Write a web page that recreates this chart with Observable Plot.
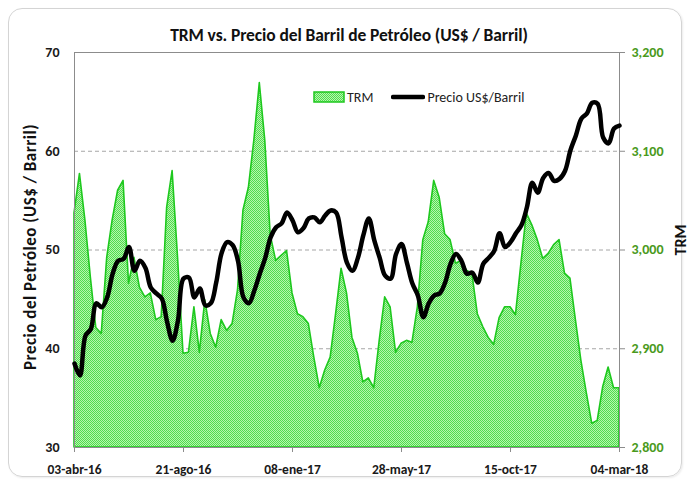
<!DOCTYPE html>
<html><head><meta charset="utf-8">
<script src="https://cdn.jsdelivr.net/npm/d3@7"></script>
<script src="https://cdn.jsdelivr.net/npm/@observablehq/plot@0.6"></script>
<style>
body{margin:0;background:#fff;}
#wrap{position:relative;width:691px;height:483px;font-family:Carlito,Lato,"Open Sans",sans-serif;overflow:hidden;}
#frame{position:absolute;left:8px;top:8px;width:672px;height:467px;border:1px solid #d4d4d4;border-radius:14px;box-shadow:1px 1px 2px rgba(0,0,0,0.08);}
#chart{position:absolute;left:0;top:0;}
#title{position:absolute;left:349px;top:35px;transform:translate(-50%,-50%);font-weight:bold;font-size:17.5px;white-space:nowrap;color:#111;letter-spacing:-0.1px;}
.rot{position:absolute;transform:translate(-50%,-50%) rotate(-90deg);font-weight:bold;white-space:nowrap;color:#111;}
#ylab{left:30px;top:247px;font-size:17px;letter-spacing:0.5px;}
#y2lab{left:680px;top:240px;font-size:16px;}
#legend{position:absolute;left:313px;top:88px;height:18px;display:flex;align-items:center;font-size:14px;color:#222;}
</style></head><body>
<div id="wrap">
  <div id="frame"></div>
  <div id="chart"></div>
  <div id="title">TRM vs. Precio del Barril de Petróleo (US$ / Barril)</div>
  <div id="ylab" class="rot">Precio del Petróleo (US$ / Barril)</div>
  <div id="y2lab" class="rot">TRM</div>
  <div id="legend">
    <svg width="32" height="12" style="margin-right:2px"><defs><pattern id="legPat" width="2" height="2" patternUnits="userSpaceOnUse"><rect width="2" height="2" fill="#b6f5ad"/><rect width="1" height="1" fill="#4fdc4f"/><rect x="1" y="1" width="1" height="1" fill="#4fdc4f"/></pattern></defs><rect x="1" y="1" width="30" height="10" fill="url(#legPat)" stroke="#1ec81e" stroke-width="1.5"/></svg>
    <span>TRM</span>
    <svg width="34" height="12" style="margin-left:18px;margin-right:2px"><line x1="2" y1="6" x2="32" y2="6" stroke="#000" stroke-width="4.5" stroke-linecap="round"/></svg>
    <span>Precio US$/Barril</span>
  </div>
</div>
<script>
const weeks = [
"2016-04-03","2016-04-10","2016-04-17","2016-04-24","2016-05-01","2016-05-08","2016-05-15","2016-05-22","2016-05-29",
"2016-06-05","2016-06-12","2016-06-19","2016-06-26","2016-07-03","2016-07-10","2016-07-17","2016-07-24","2016-07-31",
"2016-08-07","2016-08-14","2016-08-21","2016-08-28","2016-09-04","2016-09-11","2016-09-18","2016-09-25",
"2016-10-02","2016-10-09","2016-10-16","2016-10-23","2016-10-30","2016-11-06","2016-11-13","2016-11-20","2016-11-27",
"2016-12-04","2016-12-11","2016-12-18","2016-12-25","2017-01-01","2017-01-08","2017-01-15","2017-01-22","2017-01-29",
"2017-02-05","2017-02-12","2017-02-19","2017-02-26","2017-03-05","2017-03-12","2017-03-19","2017-03-26",
"2017-04-02","2017-04-09","2017-04-16","2017-04-23","2017-04-30","2017-05-07","2017-05-14","2017-05-21","2017-05-28",
"2017-06-04","2017-06-11","2017-06-18","2017-06-25","2017-07-02","2017-07-09","2017-07-16","2017-07-23","2017-07-30",
"2017-08-06","2017-08-13","2017-08-20","2017-08-27","2017-09-03","2017-09-10","2017-09-17","2017-09-24",
"2017-10-01","2017-10-08","2017-10-15","2017-10-22","2017-10-29","2017-11-05","2017-11-12","2017-11-19","2017-11-26",
"2017-12-03","2017-12-10","2017-12-17","2017-12-24","2017-12-31","2018-01-07","2018-01-14","2018-01-21","2018-01-28",
"2018-02-04","2018-02-11","2018-02-18","2018-02-25","2018-03-04"];

const oilPrice = [
38.5,37.3,41.3,42.0,44.6,44.2,45.2,47.6,48.9,
49.1,50.3,47.9,48.9,48.2,46.2,45.6,45.1,42.7,
40.8,42.9,47.1,47.2,45.2,46.1,44.4,44.6,
46.7,49.7,50.8,50.5,48.9,45.2,44.6,45.9,47.6,
49.2,51.3,52.3,52.7,53.8,53.0,51.8,52.2,53.2,
53.3,52.8,53.5,54.0,53.8,51.3,48.7,47.9,
49.2,51.5,53.2,51.0,49.2,47.4,47.1,49.6,50.6,
48.7,46.6,45.4,43.2,44.6,45.4,45.6,46.7,48.6,
49.6,48.9,47.6,47.7,46.7,48.6,49.2,49.9,
51.7,50.3,50.8,51.7,52.5,54.3,56.8,55.8,57.3,
57.8,57.0,57.2,58.0,60.1,61.6,63.3,63.8,64.9,
64.8,61.4,60.8,62.3,62.6];

const trm = [
3037,3077,3030,2972,2921,2915,2992,3030,3060,
3070,2966,2992,2962,2952,2956,2929,2932,3043,
3080,2992,2895,2896,2942,2896,2949,2915,
2901,2929,2918,2925,2959,3040,3063,3111,3169,
3111,3015,2989,2994,2999,2956,2935,2932,2925,
2891,2860,2878,2891,2935,2981,2956,2911,
2895,2866,2870,2860,2908,2952,2942,2896,2905,
2908,2906,2942,3010,3028,3070,3053,3016,3010,
2986,2989,2979,2976,2935,2922,2911,2904,
2931,2942,2942,2934,2986,3037,3025,3010,2991,
2996,3005,3010,2976,2971,2929,2888,2855,2824,
2827,2861,2881,2860,2860];

const xTickDates = ["2016-04-03","2016-08-21","2017-01-08","2017-05-28","2017-10-15","2018-03-04"];
const xTickLabels = ["03-abr-16","21-ago-16","08-ene-17","28-may-17","15-oct-17","04-mar-18"];
const leftTicks = [30,40,50,60,70];
const rightTickLabels = ["2,800","2,900","3,000","3,100","3,200"];
const gridValues = [40,50,60];

const trmMin = 2800, trmMax = 3200, oilMin = 30, oilMax = 70;
const toLeft = v => oilMin + (v - trmMin) * (oilMax - oilMin) / (trmMax - trmMin);

const data = weeks.map((w, i) => ({date: new Date(w), oil: oilPrice[i], trm: trm[i]}));
const xTicks = xTickDates.map(d => new Date(d));
const fontFam = 'Carlito, Lato, "Open Sans", sans-serif';

const plot = Plot.plot({
  width: 691, height: 483,
  marginLeft: 74, marginRight: 72, marginTop: 52, marginBottom: 36,
  style: {fontFamily: fontFam, background: "transparent", overflow: "visible"},
  x: {type: "utc", domain: [data[0].date, data[data.length-1].date]},
  y: {domain: [oilMin, oilMax]},
  marks: [
    Plot.ruleY(gridValues, {stroke: "#a6a6a6", strokeDasharray: "4,3", strokeWidth: 1}),
    Plot.areaY(data, {x: "date", y1: () => oilMin, y2: d => toLeft(d.trm), fill: "url(#trmPat)", stroke: "#1ec81e", strokeWidth: 1.6}),
    Plot.frame({stroke: "#8c8c8c", strokeWidth: 1}),
    Plot.lineY(data, {x: "date", y: "oil", stroke: "#000", strokeWidth: 4.5, curve: "catmull-rom", strokeLinejoin: "round", strokeLinecap: "round"}),
    Plot.axisX({ticks: xTicks, tickFormat: (d, i) => xTickLabels[i], tickSize: 5, tickPadding: 12, stroke: "#8c8c8c", fontSize: 13.5, fontWeight: "bold", fill: "#1a1a1a", label: null}),
    Plot.axisY({anchor: "left", ticks: leftTicks, tickSize: 0, tickPadding: 15, fontSize: 14, fontWeight: "bold", fill: "#1a1a1a", label: null}),
    Plot.axisY({anchor: "right", ticks: leftTicks, tickFormat: (d, i) => rightTickLabels[i], tickSize: 5, tickPadding: 7, stroke: "#8c8c8c", fontSize: 14, fontWeight: "bold", fill: "#4a9a1c", label: null})
  ]
});

const svg = plot.tagName.toLowerCase() === "svg" ? plot : plot.querySelector("svg");
const ns = "http://www.w3.org/2000/svg";
const defs = document.createElementNS(ns, "defs");
defs.innerHTML = '<pattern id="trmPat" width="2" height="2" patternUnits="userSpaceOnUse"><rect width="2" height="2" fill="#b6f5ad"/><rect width="1" height="1" fill="#4fdc4f"/><rect x="1" y="1" width="1" height="1" fill="#4fdc4f"/></pattern>';
svg.insertBefore(defs, svg.firstChild);
document.getElementById("chart").appendChild(plot);
</script>
</body></html>
